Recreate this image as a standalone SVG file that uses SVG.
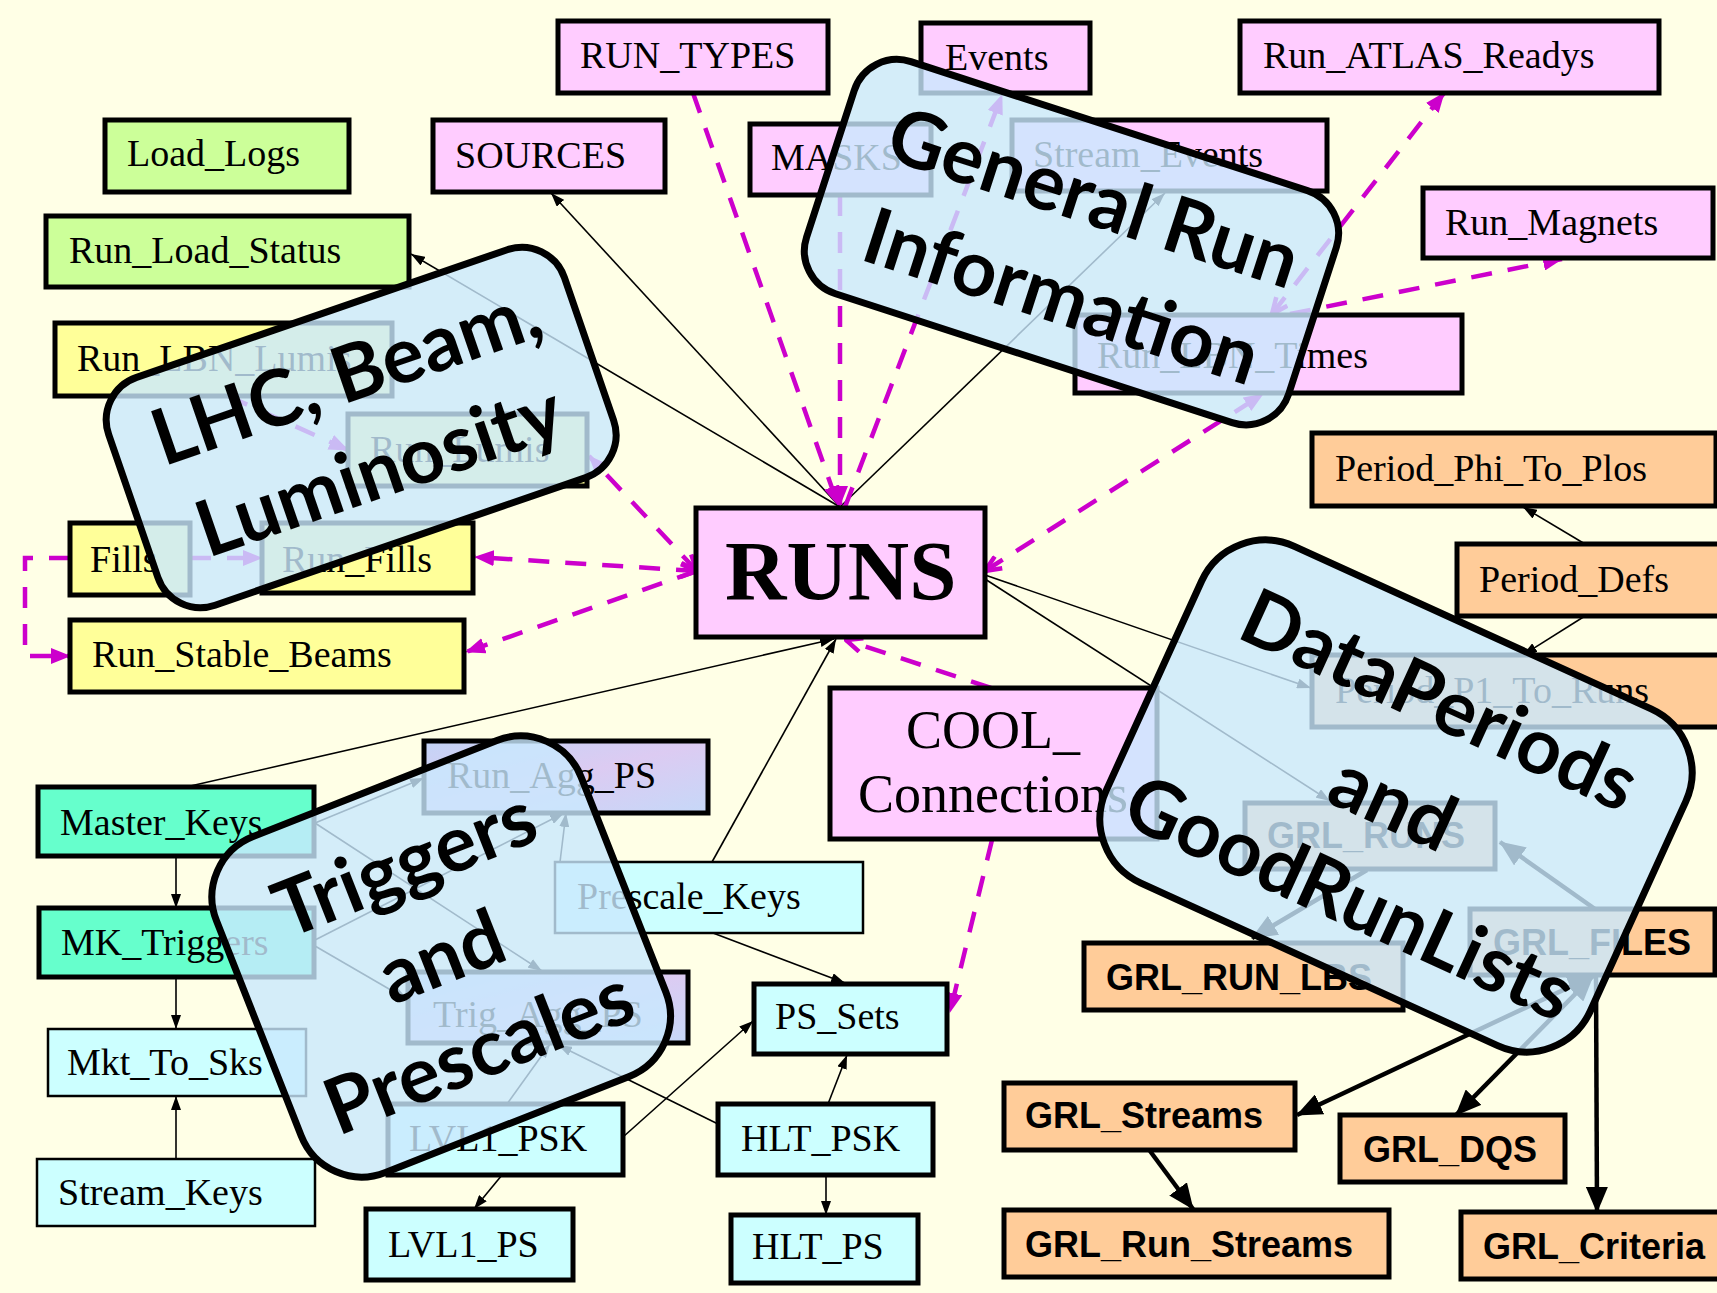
<svg xmlns="http://www.w3.org/2000/svg" width="1717" height="1293" viewBox="0 0 1717 1293">
<style>
.n{stroke:#000;stroke-width:5}
.thin{stroke-width:2.5}
.pk{fill:#ffccff}.gr{fill:#ccff99}.ye{fill:#ffff99}.or{fill:#ffcc99}.te{fill:#66ffcc}.cy{fill:#ccffff}.ag{fill:url(#agg)}
.t{font-family:"Liberation Serif","Times New Roman",serif;font-size:38px;fill:#000}
.ts{font-family:"Liberation Sans",Arial,sans-serif;font-size:36px;font-weight:bold;fill:#000}
.e{stroke:#000;stroke-width:1.6;fill:none;marker-end:url(#ab)}
.m{stroke:#cc00cc;stroke-width:4.5;stroke-dasharray:21 16;fill:none}
.g{stroke:#000;stroke-width:4.5;fill:none;marker-end:url(#ag)}
.co{fill:#c9e8fe;fill-opacity:0.8;stroke:#000;stroke-width:7}
.ct{font-family:Lato,"Open Sans",sans-serif;font-weight:bold;font-size:78px;text-anchor:middle;fill:#000}
</style>
<defs>
<linearGradient id="agg" x1="0" y1="0" x2="1" y2="1">
<stop offset="0" stop-color="#c4d4f6"/><stop offset="0.5" stop-color="#dccbf2"/><stop offset="1" stop-color="#c6d8f8"/>
</linearGradient>
<marker id="ab" viewBox="0 0 14 10" refX="14" refY="5" markerWidth="14" markerHeight="10" orient="auto-start-reverse" markerUnits="userSpaceOnUse"><path d="M0,0L14,5L0,10z" fill="#000"/></marker>
<marker id="am" viewBox="0 0 20 16" refX="19" refY="8" markerWidth="20" markerHeight="16" orient="auto-start-reverse" markerUnits="userSpaceOnUse"><path d="M0,0L20,8L0,16z" fill="#cc00cc"/></marker>
<marker id="amo" viewBox="0 0 20 18" refX="18" refY="9" markerWidth="20" markerHeight="18" orient="auto-start-reverse" markerUnits="userSpaceOnUse"><path d="M2,2L18,9L2,16" fill="none" stroke="#cc00cc" stroke-width="4.5"/></marker>
<marker id="ag" viewBox="0 0 26 22" refX="25" refY="11" markerWidth="26" markerHeight="22" orient="auto-start-reverse" markerUnits="userSpaceOnUse"><path d="M0,0L26,11L0,22z" fill="#000"/></marker>
</defs>
<rect width="1717" height="1293" fill="#ffffe6"/>
<g id="connectors">
<path class="e" d="M840,507L551,193"/>
<path class="e" d="M840,507L411,254"/>
<path class="e" d="M840,507L1165,193"/>
<path class="e" d="M186,787L834,639"/>
<path class="e" d="M712,862L836,639"/>
<path class="e" d="M985,575L1311,688"/>
<path class="e" d="M985,579L1330,801"/>
<path class="e" d="M1585,544L1523,507"/>
<path class="e" d="M1585,616L1523,655"/>
<path class="e" d="M315,823L424,778"/>
<path class="e" d="M315,823L542,971"/>
<path class="e" d="M315,940L564,813"/>
<path class="e" d="M315,946L408,1000"/>
<path class="e" d="M560,862L566,813"/>
<path class="e" d="M507,1104L550,1044"/>
<path class="e" d="M718,1124L558,1045"/>
<path class="e" d="M623,1137L753,1021"/>
<path class="e" d="M828,1104L847,1055"/>
<path class="e" d="M713,933L845,983"/>
<path class="e" d="M502,1175L474,1209"/>
<path class="e" d="M826,1175L826,1215"/>
<path class="e" d="M176,856L176,908"/>
<path class="e" d="M176,977L176,1029"/>
<path class="e" d="M176,1159L176,1096"/>
<path class="m" d="M693,93L838,505" marker-end="url(#am)"/>
<path class="m" d="M840,195L840,505" marker-end="url(#am)"/>
<path class="m" d="M845,507L1002,95" marker-end="url(#am)"/>
<path class="m" d="M1272,314L1444,93" marker-start="url(#amo)" marker-end="url(#am)"/>
<path class="m" d="M1290,314L1562,259" marker-end="url(#am)"/>
<path class="m" d="M985,571L1263,394" marker-start="url(#amo)" marker-end="url(#am)"/>
<path class="m" d="M697,571L589,456" marker-start="url(#amo)" marker-end="url(#am)"/>
<path class="m" d="M697,571L475,557" marker-start="url(#amo)" marker-end="url(#am)"/>
<path class="m" d="M697,571L466,652" marker-end="url(#am)"/>
<path class="m" d="M190,558L262,558" marker-end="url(#am)"/>
<path class="m" d="M70,558L25,558L25,656L70,656" marker-end="url(#am)"/>
<path class="m" d="M228,396L348,450" marker-end="url(#am)"/>
<path class="m" d="M991,688L846,640" marker-end="url(#amo)"/>
<path class="m" d="M992,840L950,1012" marker-end="url(#am)"/>
<path class="g" d="M1595,909L1500,842"/>
<path class="g" d="M1367,870L1252,938"/>
<path class="g" d="M1593,976L1297,1115" marker-start="url(#ag)"/>
<path class="g" d="M1593,976L1456,1115" marker-start="url(#ag)"/>
<path class="g" d="M1596,976L1597,1212"/>
<path class="g" d="M1150,1151L1193,1209"/>
</g>
<g id="nodes">
<g id="RUN_TYPES"><rect class="n pk" x="558" y="21" width="270" height="72"/><text class="t" x="580" y="68">RUN_TYPES</text></g>
<g id="SOURCES"><rect class="n pk" x="433" y="120" width="232" height="72"/><text class="t" x="455" y="168">SOURCES</text></g>
<g id="Load_Logs"><rect class="n gr" x="105" y="120" width="244" height="72"/><text class="t" x="127" y="166">Load_Logs</text></g>
<g id="Run_Load_Status"><rect class="n gr" x="46" y="216" width="363" height="71"/><text class="t" x="69" y="263">Run_Load_Status</text></g>
<g id="MASKS"><rect class="n pk" x="750" y="124" width="181" height="71"/><text class="t" x="771" y="170">MASKS</text></g>
<g id="Events"><rect class="n pk" x="921" y="23" width="169" height="70"/><text class="t" x="945" y="70">Events</text></g>
<g id="Run_ATLAS_Readys"><rect class="n pk" x="1240" y="21" width="419" height="72"/><text class="t" x="1263" y="68">Run_ATLAS_Readys</text></g>
<g id="Stream_Events"><rect class="n pk" x="1012" y="120" width="315" height="71"/><text class="t" x="1033" y="167">Stream_Events</text></g>
<g id="Run_Magnets"><rect class="n pk" x="1423" y="188" width="290" height="70"/><text class="t" x="1445" y="235">Run_Magnets</text></g>
<g id="Run_LBN_Times"><rect class="n pk" x="1075" y="315" width="387" height="78"/><text class="t" x="1097" y="368">Run_LBN_Times</text></g>
<g id="Run_LBN_Lumis"><rect class="n ye" x="55" y="323" width="337" height="73"/><text class="t" x="77" y="371">Run_LBN_Lumis</text></g>
<g id="Run_Lumis"><rect class="n ye" x="348" y="414" width="239" height="72"/><text class="t" x="370" y="462">Run_Lumis</text></g>
<g id="Fills"><rect class="n ye" x="70" y="523" width="120" height="72"/><text class="t" x="90" y="572">Fills</text></g>
<g id="Run_Fills"><rect class="n ye" x="262" y="523" width="211" height="70"/><text class="t" x="282" y="572">Run_Fills</text></g>
<g id="Run_Stable_Beams"><rect class="n ye" x="70" y="620" width="394" height="72"/><text class="t" x="92" y="667">Run_Stable_Beams</text></g>
<g id="RUNS"><rect class="n pk" x="696" y="508" width="289" height="129"/><text class="t" x="725" y="600" style="font-size:85px;font-weight:bold">RUNS</text></g>
<g id="COOL_Connections"><rect class="n pk" x="830" y="688" width="327" height="151"/><text class="t" x="993" y="748" text-anchor="middle" style="font-size:54px">COOL_</text><text class="t" x="993" y="812" text-anchor="middle" style="font-size:54px">Connections</text></g>
<g id="Period_Phi_To_Plos"><rect class="n or" x="1312" y="433" width="404" height="73"/><text class="t" x="1335" y="481">Period_Phi_To_Plos</text></g>
<g id="Period_Defs"><rect class="n or" x="1457" y="544" width="290" height="72"/><text class="t" x="1479" y="592">Period_Defs</text></g>
<g id="Period_P1_To_Runs"><rect class="n or" x="1312" y="655" width="420" height="72"/><text class="t" x="1335" y="703">Period_P1_To_Runs</text></g>
<g id="GRL_RUNS"><rect class="n or" x="1245" y="803" width="250" height="66"/><text class="ts" x="1267" y="848">GRL_RUNS</text></g>
<g id="GRL_FILES"><rect class="n or" x="1470" y="909" width="245" height="66"/><text class="ts" x="1493" y="955">GRL_FILES</text></g>
<g id="GRL_RUN_LBS"><rect class="n or" x="1084" y="943" width="319" height="67"/><text class="ts" x="1106" y="990">GRL_RUN_LBS</text></g>
<g id="GRL_Streams"><rect class="n or" x="1004" y="1083" width="291" height="67"/><text class="ts" x="1025" y="1128">GRL_Streams</text></g>
<g id="GRL_DQS"><rect class="n or" x="1340" y="1115" width="225" height="67"/><text class="ts" x="1363" y="1162">GRL_DQS</text></g>
<g id="GRL_Run_Streams"><rect class="n or" x="1004" y="1210" width="385" height="67"/><text class="ts" x="1025" y="1257">GRL_Run_Streams</text></g>
<g id="GRL_Criteria"><rect class="n or" x="1461" y="1212" width="280" height="67"/><text class="ts" x="1483" y="1259">GRL_Criteria</text></g>
<g id="Master_Keys"><rect class="n te" x="38" y="787" width="276" height="69"/><text class="t" x="60" y="835">Master_Keys</text></g>
<g id="MK_Triggers"><rect class="n te" x="39" y="908" width="275" height="69"/><text class="t" x="61" y="955">MK_Triggers</text></g>
<g id="Mkt_To_Sks"><rect class="n thin cy" x="48" y="1029" width="258" height="67"/><text class="t" x="67" y="1075">Mkt_To_Sks</text></g>
<g id="Stream_Keys"><rect class="n thin cy" x="37" y="1159" width="278" height="67"/><text class="t" x="58" y="1205">Stream_Keys</text></g>
<g id="Run_Agg_PS"><rect class="n ag" x="424" y="741" width="284" height="72"/><text class="t" x="447" y="788">Run_Agg_PS</text></g>
<g id="Prescale_Keys"><rect class="n thin cy" x="555" y="862" width="308" height="71"/><text class="t" x="577" y="909">Prescale_Keys</text></g>
<g id="Trig_Agg_PS"><rect class="n ag" x="408" y="972" width="280" height="71"/><text class="t" x="433" y="1027">Trig_Agg_PS</text></g>
<g id="PS_Sets"><rect class="n cy" x="754" y="984" width="193" height="70"/><text class="t" x="775" y="1029">PS_Sets</text></g>
<g id="LVL1_PSK"><rect class="n cy" x="388" y="1104" width="235" height="71"/><text class="t" x="409" y="1151">LVL1_PSK</text></g>
<g id="HLT_PSK"><rect class="n cy" x="718" y="1104" width="215" height="71"/><text class="t" x="741" y="1151">HLT_PSK</text></g>
<g id="LVL1_PS"><rect class="n cy" x="366" y="1209" width="207" height="71"/><text class="t" x="388" y="1257">LVL1_PS</text></g>
<g id="HLT_PS"><rect class="n cy" x="731" y="1215" width="187" height="68"/><text class="t" x="752" y="1259">HLT_PS</text></g>
</g>
<g id="callouts">
<g id="callout_lhc" transform="translate(361,427) rotate(-19)"><rect class="co" x="-241" y="-120" width="482" height="241" rx="45"/><text class="ct" x="3" y="-27">LHC, Beam,</text><text class="ct" x="3" y="74">Luminosity</text></g>
<g id="callout_general" transform="translate(1071,242) rotate(18)"><rect class="co" x="-253" y="-122" width="507" height="244" rx="45"/><text class="ct" x="8" y="-22">General Run</text><text class="ct" x="8" y="82">Information</text></g>
<g id="callout_triggers" transform="translate(441,956) rotate(-21.5)"><rect class="co" x="-196" y="-180" width="392" height="361" rx="65"/><text class="ct" x="0" y="-72">Triggers</text><text class="ct" x="0" y="28">and</text><text class="ct" x="0" y="130">Prescales</text></g>
<g id="callout_grl" transform="translate(1396,796) rotate(24.5)"><rect class="co" x="-266" y="-185" width="532" height="370" rx="70"/><text class="ct" x="0" y="-78">DataPeriods</text><text class="ct" x="0" y="34">and</text><text class="ct" x="0" y="139">GoodRunLists</text></g>
</g>
</svg>
